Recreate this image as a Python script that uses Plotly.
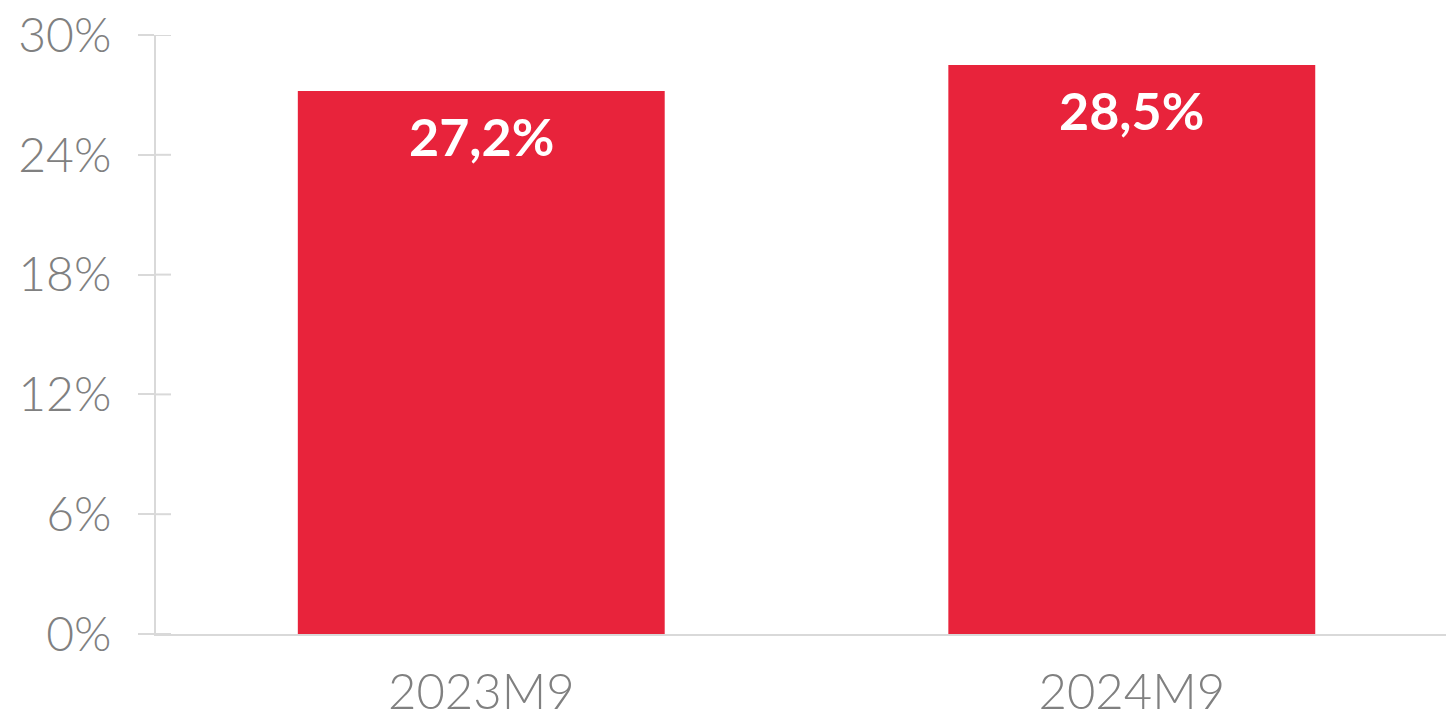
import plotly.graph_objects as go

categories = ["2023M9", "2024M9"]
values = [27.2, 28.5]
tick_vals = [0, 6, 12, 18, 24, 30]
tick_text = ["0%", "6%", "12%", "18%", "24%", "30%"]

BAR = "#e8233b"
GRID = "#d9d9d9"
TXT = "#808080"
FONT = "Lato"

fig = go.Figure()
fig.add_trace(go.Bar(x=categories, y=values, marker=dict(color=BAR, line=dict(width=0)),
                     hoverinfo="skip", showlegend=False))

for c, v in zip(categories, values):
    fig.add_annotation(x=c, y=v, text="<b>" + f"{v:.1f}".replace(".", ",") + "%</b>",
                       showarrow=False, yanchor="middle", yshift=-45,
                       font=dict(family=FONT, size=52, color="white"))

# inner half of the crossing tick marks
for tv in tick_vals:
    fig.add_shape(type="line", xref="x domain", yref="y", x0=0, x1=15 / 1290,
                  y0=tv, y1=tv, line=dict(color=GRID, width=2), layer="above")

fig.update_layout(
    width=1446, height=724,
    margin=dict(l=156, r=0, t=35, b=90, autoexpand=False),
    plot_bgcolor="white", paper_bgcolor="white",
    bargap=0.436,
    font=dict(family=FONT, color=TXT),
    xaxis=dict(range=[-0.5, 1.483], showline=True, linecolor=GRID, linewidth=2,
               ticks="", showgrid=False, automargin=False,
               tickfont=dict(family=FONT, size=49, color=TXT, weight=300),
               ticklabelstandoff=14),
    yaxis=dict(range=[0, 30], tickvals=tick_vals, ticktext=tick_text, showgrid=False,
               automargin=False,
               zeroline=False, showline=True, linecolor=GRID, linewidth=2,
               ticks="outside", ticklen=16, tickwidth=2, tickcolor=GRID,
               tickfont=dict(family=FONT, size=48, color=TXT, weight=300),
               ticklabelstandoff=17),
)

fig.write_html("out.html", config={"displayModeBar": False},
               post_script="document.body.style.margin='0';document.body.style.overflow='hidden';")
